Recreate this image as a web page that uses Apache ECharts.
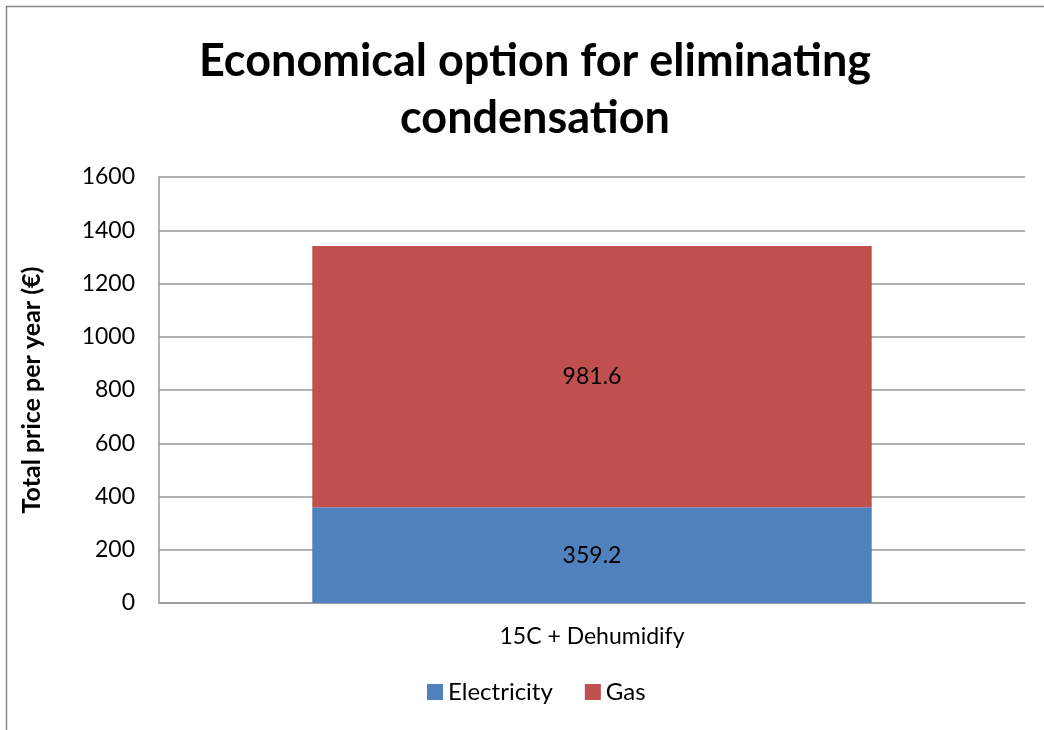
<!DOCTYPE html>
<html>
<head>
<meta charset="utf-8">
<script src="https://cdn.jsdelivr.net/npm/echarts@6/dist/echarts.min.js"></script>
<style>
  html, body { margin: 0; padding: 0; background: #fff; }
  #chart { width: 1044px; height: 730px; }
</style>
</head>
<body>
<div id="chart"></div>
<script>
const categories = ['15C + Dehumidify']
const electricity = [359.2]
const gas = [981.6]
const yTicks = [0, 200, 400, 600, 800, 1000, 1200, 1400, 1600]

const font = 'Lato, "Open Sans", sans-serif'
const chart = echarts.init(document.getElementById('chart'))

const labelStyle = {
  show: true,
  position: 'inside',
  color: '#000',
  fontSize: 23,
  fontFamily: font,
}

chart.setOption({
  animation: false,
  textStyle: { fontFamily: font },
  title: {
    text: 'Economical option for eliminating\ncondensation',
    left: 530,
    textAlign: 'center',
    top: 28,
    textStyle: {
      fontSize: 45,
      fontWeight: 'bold',
      lineHeight: 57,
      color: '#000',
      fontFamily: font,
    },
  },
  graphic: [
    {
      type: 'rect',
      shape: { x: 6.5, y: 6.5, width: 1100, height: 800 },
      style: { fill: 'none', stroke: '#888', lineWidth: 1.5 },
      silent: true,
    },
  ],
  legend: {
    data: ['Electricity', 'Gas'],
    bottom: 21,
    left: 422,
    itemWidth: 16,
    itemHeight: 16,
    itemGap: 32,
    icon: 'rect',
    textStyle: { fontSize: 24, color: '#000', fontFamily: font },
  },
  grid: { left: 159, right: 19, top: 177, bottom: 127 },
  xAxis: {
    type: 'category',
    data: categories,
    axisTick: { show: false },
    axisLine: { lineStyle: { color: '#999', width: 1.5 } },
    axisLabel: { color: '#000', fontSize: 23, margin: 22, fontFamily: font },
  },
  yAxis: {
    type: 'value',
    min: yTicks[0],
    max: yTicks[yTicks.length - 1],
    interval: 200,
    name: 'Total price per year (€)',
    nameLocation: 'middle',
    nameGap: 115,
    nameTextStyle: { fontSize: 25, fontWeight: 'bold', color: '#000', fontFamily: font },
    axisLine: { show: true, lineStyle: { color: '#999', width: 1.5 } },
    axisTick: { show: false },
    splitLine: { lineStyle: { color: '#999', width: 1.5 } },
    axisLabel: {
      color: '#000',
      fontSize: 23,
      margin: 24,
      fontFamily: font,
      formatter: (v) => String(v),
    },
  },
  series: [
    {
      name: 'Electricity',
      type: 'bar',
      stack: 'total',
      barWidth: '64.6%',
      data: electricity,
      itemStyle: { color: '#4F81BD' },
      label: labelStyle,
    },
    {
      name: 'Gas',
      type: 'bar',
      stack: 'total',
      data: gas,
      itemStyle: { color: '#C0504D' },
      label: labelStyle,
    },
  ],
})
</script>
</body>
</html>
